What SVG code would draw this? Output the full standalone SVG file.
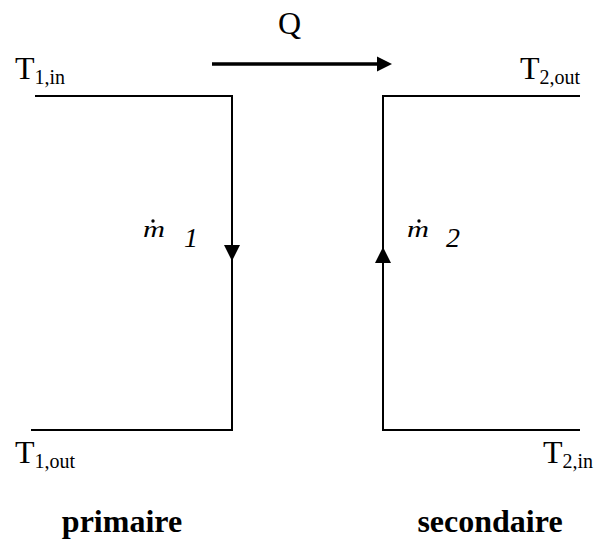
<svg xmlns="http://www.w3.org/2000/svg" width="595" height="541" viewBox="0 0 595 541">
<defs>
<style>
text{font-family:"Liberation Serif","Times New Roman",serif;fill:#000}
.t{font-size:32px}
.s{font-size:20px}
.m{font-style:italic;font-size:24px}
.d{font-style:italic;font-size:28px}
.b{font-weight:bold;font-size:32px}
.ln{stroke:#000;stroke-width:2;fill:none}
</style>
</defs>
<rect width="595" height="541" fill="#fff"/>
<g id="connectors">
<path class="ln" d="M35,96 H232 V430 H31"/>
<path class="ln" d="M580,96 H383 V430 H580"/>
<polygon points="224,245 240,245 232,261" fill="#000"/>
<polygon points="375,263 391,263 383,247" fill="#000"/>
<line x1="212" y1="64" x2="380" y2="64" stroke="#000" stroke-width="3.5"/>
<polygon points="377,56.5 392,64 377,71.5" fill="#000"/>
</g>
<g id="Q"><text class="t" x="278" y="34">Q</text></g>
<g id="T1in"><text class="t" x="15" y="79">T<tspan class="s" dy="5">1,in</tspan></text></g>
<g id="T2out"><text class="t" x="580" y="79" text-anchor="end">T<tspan class="s" dy="5">2,out</tspan></text></g>
<g id="T1out"><text class="t" x="15" y="463">T<tspan class="s" dy="5">1,out</tspan></text></g>
<g id="T2in"><text class="t" x="593" y="463" text-anchor="end">T<tspan class="s" dy="5">2,in</tspan></text></g>
<g id="m1">
<text class="m" x="143" y="237" textLength="22" lengthAdjust="spacingAndGlyphs">m</text>
<circle cx="153" cy="221" r="1.7" fill="#000"/>
<text class="d" x="184" y="247">1</text>
</g>
<g id="m2">
<text class="m" x="407" y="237" textLength="22" lengthAdjust="spacingAndGlyphs">m</text>
<circle cx="419" cy="221" r="1.7" fill="#000"/>
<text class="d" x="446" y="247">2</text>
</g>
<g id="primaire"><text class="b" x="122" y="532" text-anchor="middle">primaire</text></g>
<g id="secondaire"><text class="b" x="490" y="532" text-anchor="middle">secondaire</text></g>
</svg>
